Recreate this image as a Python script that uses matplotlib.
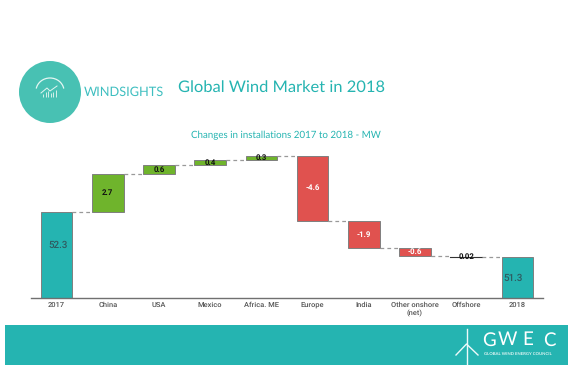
import matplotlib
matplotlib.use("Agg")
import matplotlib.pyplot as plt
from matplotlib.patches import Arc, Circle, Rectangle

plt.rcParams["text.hinting"] = "no_hinting"

W, H = 575, 369
TEAL = "#25B4B1"
LOGO_TEAL = "#48C1B3"
GREEN = "#6FB42C"
RED = "#E0524F"
EDGE = "#7f7f7f"

categories = ["2017", "China", "USA", "Mexico", "Africa. ME", "Europe", "India",
              "Other onshore\n(net)", "Offshore", "2018"]
start_total = 52.3
changes = [2.7, 0.6, 0.4, 0.3, -4.6, -1.9, -0.6, -0.02]
labels = ["52.3", "2.7", "0.6", "0.4", "0.3", "-4.6", "-1.9", "-0.6", "0.02", "51.3"]
axis_floor = 46.3


def px_x(x):
    return x / W


def px_y(y):
    return 1 - y / H


fig = plt.figure(figsize=(W / 100, H / 100), dpi=100, facecolor="white")

# overlay in pixel coordinates for the logo and footer
bg = fig.add_axes([0, 0, 1, 1])
bg.set_xlim(0, W)
bg.set_ylim(H, 0)
bg.axis("off")

bg.add_patch(Rectangle((5, 325), 563, 40, facecolor=TEAL, edgecolor="none"))
bg.add_patch(Circle((50, 92), 31, facecolor=LOGO_TEAL, edgecolor="none"))
bg.add_patch(Arc((50, 91), 28, 26, theta1=190, theta2=350, color="#e4f6f2", lw=0.9))
bg.plot([41, 47, 50, 57], [93, 88, 91, 86], color="#e4f6f2", lw=0.7)
bg.vlines([43, 45.5, 48, 50.5, 53, 55.5], [94, 92, 91, 93, 92, 90], 97, color="#d5f0ea", lw=0.7)

bg.text(84, 92.5, "WINDSIGHTS", family="Lato", fontsize=9.2,
        color="#3FBFC0", va="center", ha="left")
bg.text(178, 87, "Global Wind Market in 2018", family="Lato", fontsize=11.85,
        color=TEAL, va="center", ha="left")
bg.text(286, 135, "Changes in installations 2017 to 2018 - MW", family="Lato",
        fontsize=7.05, color=TEAL, va="center", ha="center")

# turbine and GWEC mark
bg.plot([466.5, 466.5], [329, 364], color="#eefafa", lw=1.0)
bg.plot([456, 466.5, 478], [355, 344, 355], color="#eefafa", lw=1.0)
for letter, x in zip("GWEC", [489, 507.5, 527.5, 549]):
    bg.text(x, 340, letter, family="Lato", fontsize=13.5, color="white", va="center", ha="center")
bg.text(484, 354, "GLOBAL WIND ENERGY COUNCIL", family="Lato", weight="bold",
        fontsize=3.1, color="#e4f6f5", va="center", ha="left")

ax = fig.add_axes([px_x(31), px_y(297.5), (543 - 31) / W, (297.5 - 150) / H])
ax.patch.set_alpha(0)

levels = [start_total]
for change in changes:
    levels.append(levels[-1] + change)
end_total = levels[-1]

width = 0.615
ax.bar(0, start_total - axis_floor, width, bottom=axis_floor, color=TEAL, edgecolor=EDGE, linewidth=0.7)
ax.bar(9, end_total - axis_floor, width, bottom=axis_floor, color=TEAL, edgecolor=EDGE, linewidth=0.7)

for i, change in enumerate(changes):
    low = min(levels[i], levels[i + 1])
    if abs(change) < 0.1:
        ax.plot([i + 1 - width / 2, i + 1 + width / 2], [levels[i + 1]] * 2, color="#333333", lw=0.8)
    else:
        ax.bar(i + 1, abs(change), width, bottom=low, color=GREEN if change > 0 else RED,
               edgecolor=EDGE, linewidth=0.7)

# connectors between the bars
for i, level in enumerate(levels):
    ax.plot([i + width / 2, i + 1 - width / 2], [level, level], color="#999999", lw=0.9,
            dashes=(3, 2.5))

# the total labels sit off centre in the source
ax.text(0.02, (start_total + axis_floor) / 2 + 0.65, labels[0], color="#2f5a60",
        family="Roboto", weight="medium", fontsize=7, ha="center", va="center")
ax.text(9 - 0.08, (end_total + axis_floor) / 2 - 0.05, labels[9], color="#2f5a60",
        family="Roboto", weight="medium", fontsize=7, ha="center", va="center")
for i, change in enumerate(changes):
    mid = (levels[i] + levels[i + 1]) / 2
    color = "#111111" if change > 0 or abs(change) < 0.1 else "white"
    ax.text(i + 1, mid, labels[i + 1], color=color, family="Roboto", weight="bold",
            fontsize=5.7, ha="center", va="center")

ax.set_xlim(-0.5, 9.5)
ax.set_ylim(axis_floor, axis_floor + (297.5 - 150) / 14.2)
ax.set_xticks(range(len(categories)))
ax.set_xticklabels(categories, family="Roboto", weight="medium", fontsize=5.4,
                   color="#555555", linespacing=1.25)
ax.tick_params(axis="x", length=0, pad=3.2)
ax.set_yticks([])
for side in ["top", "left", "right"]:
    ax.spines[side].set_visible(False)
ax.spines["bottom"].set_color("#707070")
ax.spines["bottom"].set_linewidth(1.0)

fig.savefig("out.png", dpi=100)
